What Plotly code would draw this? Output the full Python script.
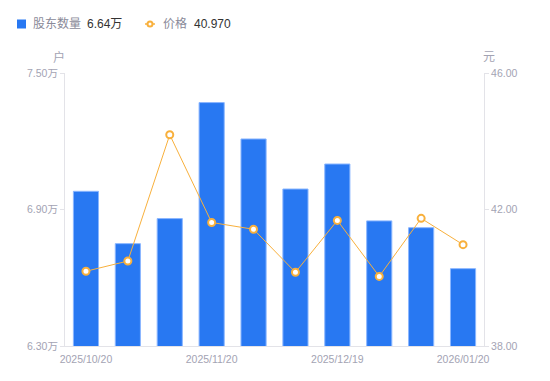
import plotly.graph_objects as go

dates = ["2025/10/20", "2025/10/31", "2025/11/10", "2025/11/20", "2025/11/28",
         "2025/12/10", "2025/12/19", "2025/12/31", "2026/01/09", "2026/01/20"]
holders_wan = [6.98, 6.75, 6.86, 7.37, 7.21, 6.99, 7.10, 6.85, 6.82, 6.64]
price = [40.19, 40.49, 44.19, 41.62, 41.42, 40.16, 41.68, 40.04, 41.74, 40.97]
x_tick_labels = ["2025/10/20", "2025/11/20", "2025/12/19", "2026/01/20"]
left_ticks = [6.30, 6.90, 7.50]
left_tick_text = ["6.30万", "6.90万", "7.50万"]
right_ticks = [38.00, 42.00, 46.00]

BLUE = "#2878f2"
ORANGE = "#f8b03c"
GRAY = "#a3a3b3"
AXIS = "#e3e3e8"
FONT = "Liberation Sans, Noto Sans CJK SC, sans-serif"

W, H = 542, 373
L, R, T, B = 57, 66, 65, 35
pw = W - L - R
ph = H - T - B


def px(x):
    return (x - 8 - L) / pw


def py(y):
    return (H - B - (y - 8)) / ph


fig = go.Figure()
fig.add_trace(go.Bar(
    x=dates, y=holders_wan, name="股东数量", width=0.6,
    marker=dict(color=BLUE, line=dict(color="#8ab6ff", width=1)),
    showlegend=False,
))
fig.add_trace(go.Scatter(
    x=dates, y=price, name="价格", yaxis="y2", mode="lines+markers",
    line=dict(color=ORANGE, width=1),
    marker=dict(symbol="circle", size=7, color="white",
                line=dict(color=ORANGE, width=2)),
    showlegend=False,
))

ly = 24
TF = 10.5
fig.update_layout(
    width=W, height=H,
    margin=dict(l=L, r=R, t=T, b=B),
    paper_bgcolor="white", plot_bgcolor="white",
    font=dict(family=FONT, size=11, color=GRAY),
    xaxis=dict(
        type="category", tickmode="array", tickvals=x_tick_labels, ticktext=x_tick_labels,
        showgrid=False, showline=True, linecolor=AXIS, linewidth=1,
        ticks="", tickfont=dict(size=TF, color=GRAY), range=[-0.5, 9.5],
        ticklabelstandoff=3,
    ),
    yaxis=dict(
        range=[left_ticks[0], left_ticks[-1]], tickvals=left_ticks,
        ticktext=left_tick_text, showgrid=False, zeroline=False,
        showline=True, linecolor=AXIS, linewidth=1,
        ticks="outside", ticklen=4, tickcolor=AXIS,
        tickfont=dict(size=TF, color=GRAY),
    ),
    yaxis2=dict(
        overlaying="y", side="right",
        range=[right_ticks[0], right_ticks[-1]], tickvals=right_ticks,
        tickformat=".2f", showgrid=False, zeroline=False,
        showline=True, linecolor=AXIS, linewidth=1,
        ticks="outside", ticklen=4, tickcolor=AXIS,
        tickfont=dict(size=TF, color=GRAY),
    ),
    shapes=[
        dict(type="rect", xref="paper", yref="paper",
             x0=px(17), x1=px(26), y0=py(28.5), y1=py(19.5),
             fillcolor=BLUE, line=dict(width=0)),
        dict(type="line", xref="paper", yref="paper",
             x0=px(145), x1=px(155), y0=py(ly), y1=py(ly),
             line=dict(color=ORANGE, width=1.5)),
        dict(type="circle", xref="paper", yref="paper",
             x0=px(147.5), x1=px(152.5), y0=py(26.5), y1=py(21.5),
             fillcolor="white", line=dict(color=ORANGE, width=2)),
    ],
    annotations=[
        dict(text="股东数量", xref="paper", yref="paper", x=px(31), y=py(ly),
             xanchor="left", yanchor="middle", showarrow=False,
             font=dict(size=12, color="#8a8a99")),
        dict(text="6.64万", xref="paper", yref="paper", x=px(84.5), y=py(ly),
             xanchor="left", yanchor="middle", showarrow=False,
             font=dict(size=12, color="#333333")),
        dict(text="价格", xref="paper", yref="paper", x=px(161), y=py(ly),
             xanchor="left", yanchor="middle", showarrow=False,
             font=dict(size=12, color="#8a8a99")),
        dict(text="40.970", xref="paper", yref="paper", x=px(191.5), y=py(ly),
             xanchor="left", yanchor="middle", showarrow=False,
             font=dict(size=12, color="#333333")),
        dict(text="户", xref="paper", yref="paper", x=px(59), y=py(57),
             xanchor="center", yanchor="middle", showarrow=False,
             font=dict(size=12, color=GRAY)),
        dict(text="元", xref="paper", yref="paper", x=px(489), y=py(57),
             xanchor="center", yanchor="middle", showarrow=False,
             font=dict(size=12, color=GRAY)),
    ],
)

fig.write_html("out.html")
